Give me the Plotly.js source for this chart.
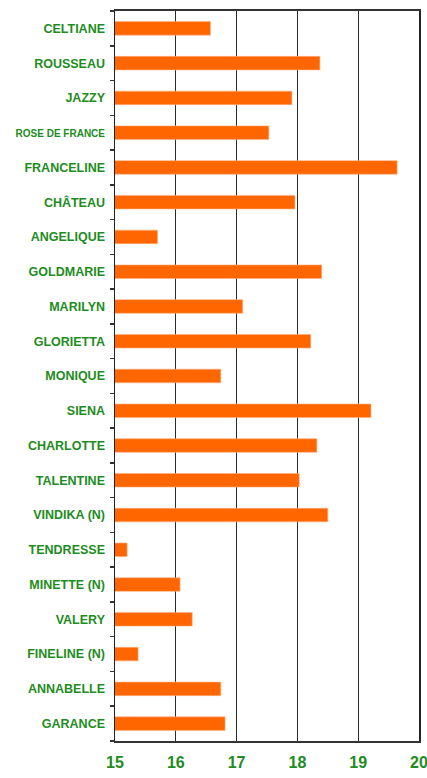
<!DOCTYPE html>
<html>
<head>
<meta charset="utf-8">
<script src="https://cdn.plot.ly/plotly-3.0.1.min.js"></script>
<style>
html,body{margin:0;padding:0;background:#fff;}
#chart{width:427px;height:778px;}
</style>
</head>
<body>
<div id="chart"></div>
<script>
const varieties = ["CELTIANE","ROUSSEAU","JAZZY","ROSE DE FRANCE","FRANCELINE","CHÂTEAU","ANGELIQUE","GOLDMARIE","MARILYN","GLORIETTA","MONIQUE","SIENA","CHARLOTTE","TALENTINE","VINDIKA (N)","TENDRESSE","MINETTE (N)","VALERY","FINELINE (N)","ANNABELLE","GARANCE"];
const values = [16.57,18.37,17.91,17.53,19.64,17.96,15.70,18.40,17.10,18.22,16.74,19.21,18.32,18.03,18.50,15.20,16.07,16.27,15.38,16.74,16.81];
const xTicks = [15,16,17,18,19,20];

const green = "#1E8C1E";
const labelFont = "Liberation Sans Narrow, Arial Narrow, Liberation Sans, Arial, sans-serif";
const tickText = varieties.map(v => v === "ROSE DE FRANCE" ? '<span style="font-size:10px">' + v + '</span>' : v);

const trace = {
  type: "bar",
  orientation: "h",
  y: varieties,
  x: values,
  marker: {color: "#FF6600", line: {color: "#FFB080", width: 0.6}},
  hoverinfo: "x+y"
};

const layout = {
  width: 427,
  height: 778,
  margin: {l: 115, r: 8, t: 11, b: 37, pad: 0},
  paper_bgcolor: "#ffffff",
  plot_bgcolor: "#ffffff",
  bargap: 0.61,
  showlegend: false,
  xaxis: {
    range: [15, 20],
    tickvals: xTicks,
    ticktext: xTicks.map(String),
    showgrid: true,
    gridcolor: "#2a2a2a",
    gridwidth: 1,
    showline: true,
    linecolor: "#333333",
    linewidth: 2,
    mirror: true,
    ticks: "",
    zeroline: false,
    ticklabeloverflow: "allow",
    ticklabelstandoff: 6,
    tickfont: {family: labelFont, size: 16, color: green, weight: "bold"},
    fixedrange: true
  },
  yaxis: {
    type: "category",
    autorange: "reversed",
    tickvals: varieties,
    ticktext: tickText,
    showgrid: false,
    showline: true,
    linecolor: "#222222",
    linewidth: 1.5,
    mirror: true,
    ticks: "outside",
    tickson: "boundaries",
    ticklen: 4,
    tickwidth: 1.5,
    tickcolor: "#333333",
    ticklabelstandoff: 6,
    zeroline: false,
    tickfont: {family: labelFont, size: 12.5, color: green, weight: "bold"},
    fixedrange: true
  }
};

Plotly.newPlot("chart", [trace], layout, {displayModeBar: false, staticPlot: true});
</script>
</body>
</html>
